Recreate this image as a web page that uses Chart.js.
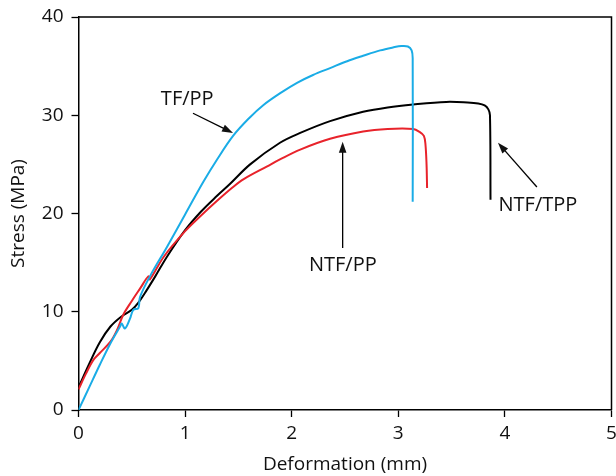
<!DOCTYPE html>
<html>
<head>
<meta charset="utf-8">
<script src="https://cdn.jsdelivr.net/npm/chart.js@4"></script>
<style>
    html, body { margin: 0; padding: 0; background: #fff; }
    #wrap { width: 616px; height: 476px; }
</style>
</head>
<body>
<div id="wrap"><canvas id="stressChart"></canvas></div>
<script>
// curves: [deformation mm, stress MPa]
const tfppX = [0, 0.1, 0.2, 0.3, 0.39, 0.405, 0.436, 0.483, 0.514, 0.561, 0.577, 0.67, 0.83, 1.0, 1.17, 1.3, 1.45, 1.6, 1.73, 1.9, 2.05, 2.2, 2.36, 2.52, 2.67, 2.83, 2.95, 3.03, 3.09, 3.125, 3.135, 3.135];
const tfppY = [0, 2.3, 4.6, 6.8, 8.5, 8.8, 8.3, 9.3, 10.2, 10.35, 11.5, 13.6, 16.6, 19.9, 23.2, 25.5, 27.9, 29.7, 31.0, 32.3, 33.3, 34.1, 34.8, 35.5, 36.05, 36.6, 36.9, 37.05, 37.0, 36.6, 35.8, 21.2];

const ntfppX = [0, 0.07, 0.14, 0.2, 0.3, 0.36, 0.42, 0.5, 0.58, 0.655, 0.67, 0.8, 1.0, 1.14, 1.3, 1.45, 1.55, 1.77, 1.89, 2.08, 2.36, 2.67, 2.9, 3.14, 3.2, 3.24, 3.255, 3.265, 3.27];
const ntfppY = [2.1, 3.7, 5.1, 5.8, 6.95, 8.1, 9.7, 11.1, 12.4, 13.6, 13.3, 15.6, 18.2, 19.7, 21.3, 22.7, 23.5, 24.8, 25.5, 26.5, 27.6, 28.35, 28.6, 28.6, 28.3, 27.9, 27.0, 25.0, 22.6];

const ntftppX = [0, 0.1, 0.2, 0.3, 0.4, 0.5, 0.56, 0.64, 0.72, 0.83, 1.0, 1.15, 1.3, 1.42, 1.61, 1.89, 2.08, 2.36, 2.67, 2.9, 3.14, 3.45, 3.65, 3.75, 3.81, 3.845, 3.86, 3.865];
const ntftppY = [2.3, 4.7, 6.9, 8.5, 9.5, 10.2, 10.9, 12.2, 13.6, 15.6, 18.3, 20.2, 21.8, 23.0, 25.0, 27.2, 28.2, 29.4, 30.35, 30.8, 31.1, 31.36, 31.3, 31.2, 31.0, 30.6, 30.0, 21.4];

const xTicks = [0, 1, 2, 3, 4, 5];
const yTicks = [0, 10, 20, 30, 40];

// labels with their arrows, in data units
const labelText = ['TF/PP', 'NTF/PP', 'NTF/TPP'];
const labelPos = [[1.02, 31.6], [2.48, 14.75], [4.31, 20.85]];
const arrowFrom = [[1.074, 30.2], [2.478, 16.5], [4.30, 22.7]];
const arrowTo = [[1.45, 28.2], [2.478, 27.3], [3.935, 27.2]];

function toPoints(xs, ys) {
    return xs.map((x, i) => ({ x: x, y: ys[i] }));
}

const fontFamily = "'Open Sans', 'Noto Sans', sans-serif";

const annotate = {
    id: 'annotate',
    afterDatasetsDraw(chart) {
        const ctx = chart.ctx;
        const a = chart.chartArea;
        const xs = chart.scales.x, ys = chart.scales.y;
        ctx.save();
        // frame top and right
        ctx.strokeStyle = '#000';
        ctx.lineWidth = 1.5;
        ctx.beginPath();
        ctx.moveTo(a.left, a.top);
        ctx.lineTo(a.right, a.top);
        ctx.lineTo(a.right, a.bottom);
        ctx.stroke();

        ctx.fillStyle = '#111';
        ctx.font = '20px ' + fontFamily;
        ctx.textAlign = 'center';
        ctx.textBaseline = 'middle';
        labelText.forEach((t, i) => {
            ctx.fillText(t, xs.getPixelForValue(labelPos[i][0]), ys.getPixelForValue(labelPos[i][1]));
        });

        ctx.lineWidth = 1.3;
        arrowFrom.forEach((f, i) => {
            const x1 = xs.getPixelForValue(f[0]), y1 = ys.getPixelForValue(f[1]);
            const x2 = xs.getPixelForValue(arrowTo[i][0]), y2 = ys.getPixelForValue(arrowTo[i][1]);
            const ang = Math.atan2(y2 - y1, x2 - x1);
            const head = 11, wide = 3.8;
            ctx.beginPath();
            ctx.moveTo(x1, y1);
            ctx.lineTo(x2 - Math.cos(ang) * head * 0.8, y2 - Math.sin(ang) * head * 0.8);
            ctx.stroke();
            ctx.beginPath();
            ctx.moveTo(x2, y2);
            ctx.lineTo(x2 - Math.cos(ang) * head - Math.sin(ang) * wide, y2 - Math.sin(ang) * head + Math.cos(ang) * wide);
            ctx.lineTo(x2 - Math.cos(ang) * head + Math.sin(ang) * wide, y2 - Math.sin(ang) * head - Math.cos(ang) * wide);
            ctx.closePath();
            ctx.fill();
        });
        ctx.restore();
    }
};

new Chart(document.getElementById('stressChart'), {
    type: 'scatter',
    data: {
        datasets: [{
            label: 'TF/PP',
            data: toPoints(tfppX, tfppY),
            borderColor: '#1aace6',
        }, {
            label: 'NTF/PP',
            data: toPoints(ntfppX, ntfppY),
            borderColor: '#e8232b',
        }, {
            label: 'NTF/TPP',
            data: toPoints(ntftppX, ntftppY),
            borderColor: '#000000',
        }]
    },
    options: {
        responsive: true,
        maintainAspectRatio: false,
        animation: false,
        showLine: true,
        elements: {
            point: { radius: 0 },
            line: { borderWidth: 2, tension: 0.35, fill: false }
        },
        layout: { padding: { top: 17, right: 4.5, left: 0, bottom: 0 } },
        plugins: {
            legend: { display: false },
            tooltip: { enabled: false }
        },
        scales: {
            x: {
                type: 'linear',
                min: 0,
                max: 5,
                afterFit: (scale) => {
                    scale.height = 66;
                    scale.paddingLeft = 0;
                    scale.paddingRight = 0;
                },
                afterBuildTicks: (scale) => { scale.ticks = xTicks.map(v => ({ value: v })); },
                border: { color: '#000', width: 1.5 },
                grid: { drawOnChartArea: false, drawTicks: true, tickLength: 7, color: '#000', tickWidth: 1.3 },
                ticks: { color: '#111', padding: 5, font: { family: fontFamily, size: 19 } },
                title: {
                    display: true,
                    text: 'Deformation (mm)',
                    color: '#111',
                    padding: { top: 0, bottom: 0 },
                    font: { family: fontFamily, size: 19 }
                }
            },
            y: {
                type: 'linear',
                min: 0,
                max: 40,
                afterFit: (scale) => {
                    scale.width = 78.5;
                    scale.paddingTop = 0;
                    scale.paddingBottom = 0;
                },
                afterBuildTicks: (scale) => { scale.ticks = yTicks.map(v => ({ value: v })); },
                border: { color: '#000', width: 1.5 },
                grid: { drawOnChartArea: false, drawTicks: true, tickLength: 7, color: '#000', tickWidth: 1.3 },
                ticks: { color: '#111', padding: 8, font: { family: fontFamily, size: 19 } },
                title: {
                    display: true,
                    text: 'Stress (MPa)',
                    color: '#111',
                    padding: { top: 7, bottom: 0 },
                    font: { family: fontFamily, size: 19 }
                }
            }
        }
    },
    plugins: [annotate]
});
</script>
</body>
</html>
